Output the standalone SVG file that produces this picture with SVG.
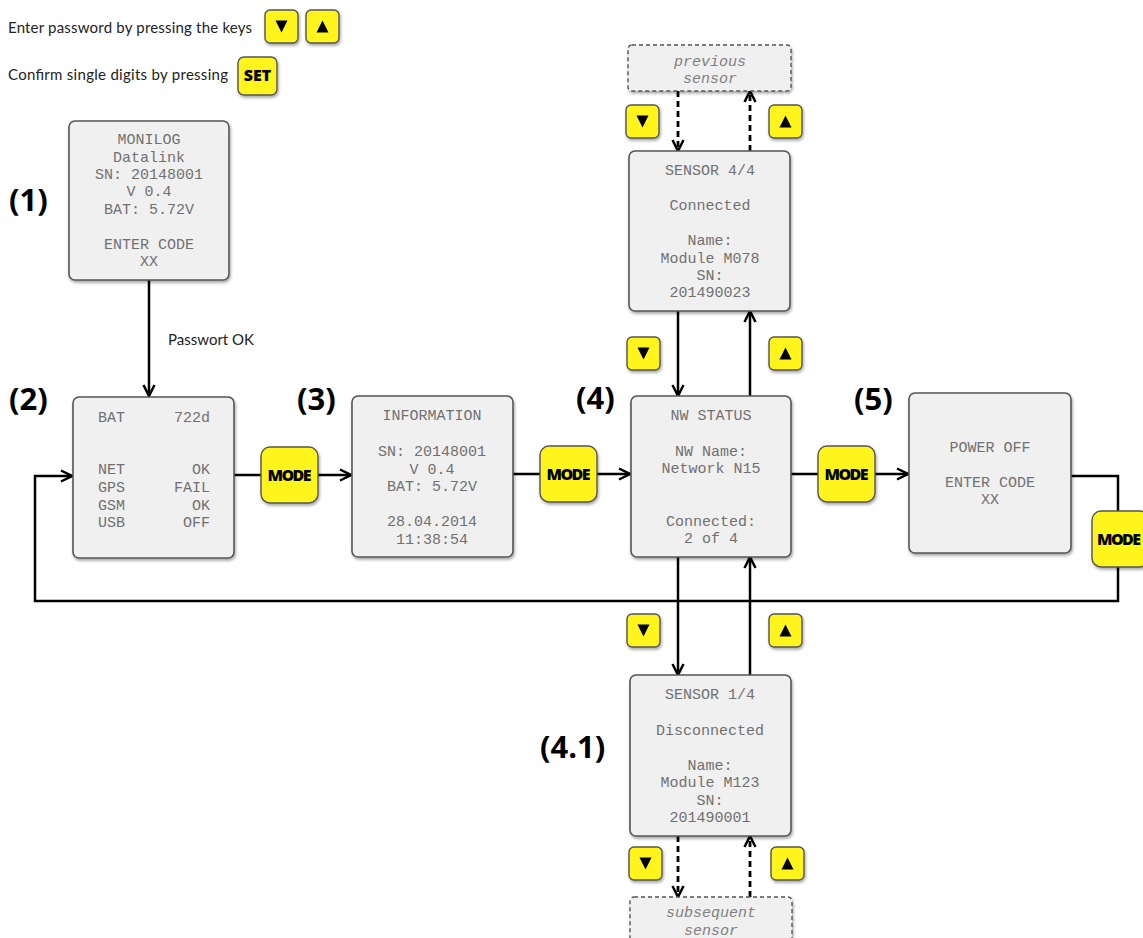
<svg xmlns="http://www.w3.org/2000/svg" xmlns:xlink="http://www.w3.org/1999/xlink" width="1143" height="938" viewBox="0 0 1143 938">
<style>
.box{fill:#f0f0f0;stroke:#555;stroke-width:1.6}
.dbox{fill:#f0f0f0;stroke:#555;stroke-width:1.4;stroke-dasharray:4,3}
.mono{font-family:"Liberation Mono","DejaVu Sans Mono",monospace;font-size:15px;fill:#707070}
.it{font-style:italic;fill:#808080}
.mid{text-anchor:middle}
.end{text-anchor:end}
.lbl{font-family:"Open Sans","Liberation Sans",sans-serif;font-weight:bold;font-size:31px;fill:#000}
.leg{font-family:"Lato","Liberation Sans",sans-serif;font-size:15px;fill:#222}
.key{fill:#fff51a;stroke:#555;stroke-width:1.4}
.kt{font-family:"Open Sans","Liberation Sans",sans-serif;font-weight:800;font-size:16px;fill:#000;text-anchor:middle}
.c{fill:none;stroke:#000;stroke-width:2.5}
.cd{fill:none;stroke:#000;stroke-width:2.8;stroke-dasharray:6,4}
</style>
<defs>
<filter id="sh" x="-10%" y="-10%" width="130%" height="130%">
<feDropShadow dx="1" dy="2" stdDeviation="1.5" flood-color="#000" flood-opacity="0.35"/>
</filter>
<marker id="ah" viewBox="0 0 14 14" refX="12.5" refY="7" markerWidth="14" markerHeight="14" markerUnits="userSpaceOnUse" orient="auto">
<path d="M1.5,1.5 L12.5,7 L1.5,12.5" fill="none" stroke="#000" stroke-width="2.5"/>
</marker>
<g id="kdown"><rect class="key" x="0" y="0" width="33" height="33" rx="5" filter="url(#sh)"/><polygon points="10.5,10.5 22.5,10.5 16.5,22.5" fill="#000"/></g>
<g id="kup"><rect class="key" x="0" y="0" width="33" height="33" rx="5" filter="url(#sh)"/><polygon points="16.5,10.5 22.5,22.5 10.5,22.5" fill="#000"/></g>
</defs>
<rect width="1143" height="938" fill="#fff"/>

<g id="legend">
<text class="leg" x="8" y="33" textLength="244">Enter password by pressing the keys</text>
<use xlink:href="#kdown" x="265" y="10"/>
<use xlink:href="#kup" x="306" y="10"/>
<text class="leg" x="8" y="80" textLength="220">Confirm single digits by pressing</text>
<rect class="key" x="238" y="57" width="39" height="38" rx="6" filter="url(#sh)"/>
<text class="kt" x="257.5" y="81" font-size="13">SET</text>
</g>

<g id="connectors">
<line class="c" x1="149" y1="280" x2="149" y2="396" marker-end="url(#ah)"/>
<line class="c" x1="234" y1="475" x2="351" y2="475" marker-end="url(#ah)"/>
<line class="c" x1="513" y1="474" x2="630" y2="474" marker-end="url(#ah)"/>
<line class="c" x1="791" y1="474" x2="908" y2="474" marker-end="url(#ah)"/>
<polyline class="c" points="1071,476 1118,476 1118,601 35,601 35,476 72,476" marker-end="url(#ah)"/>
<line class="c" x1="678" y1="311" x2="678" y2="396" marker-end="url(#ah)"/>
<line class="c" x1="750" y1="396" x2="750" y2="311" marker-end="url(#ah)"/>
<line class="c" x1="678" y1="557" x2="678" y2="675" marker-end="url(#ah)"/>
<line class="c" x1="750" y1="675" x2="750" y2="557" marker-end="url(#ah)"/>
<line class="cd" x1="678" y1="91" x2="678" y2="151" marker-end="url(#ah)"/>
<line class="cd" x1="750" y1="151" x2="750" y2="91" marker-end="url(#ah)"/>
<line class="cd" x1="678" y1="836" x2="678" y2="897" marker-end="url(#ah)"/>
<line class="cd" x1="750" y1="897" x2="750" y2="836" marker-end="url(#ah)"/>
<text class="leg" x="168" y="345" textLength="86">Passwort OK</text>
</g>

<g id="keys">
<use xlink:href="#kdown" x="626" y="105"/>
<use xlink:href="#kup" x="769" y="105"/>
<use xlink:href="#kdown" x="627" y="337"/>
<use xlink:href="#kup" x="769" y="337"/>
<use xlink:href="#kdown" x="627" y="614"/>
<use xlink:href="#kup" x="769" y="614"/>
<use xlink:href="#kdown" x="629" y="847"/>
<use xlink:href="#kup" x="771" y="847"/>
</g>

<g id="mode1"><rect class="key" x="261" y="447" width="57" height="56" rx="9" filter="url(#sh)"/><text class="kt" x="289.5" y="481" textLength="44">MODE</text></g>
<g id="mode2"><rect class="key" x="540" y="446" width="57" height="56" rx="9" filter="url(#sh)"/><text class="kt" x="568.5" y="480" textLength="44">MODE</text></g>
<g id="mode3"><rect class="key" x="818" y="446" width="57" height="56" rx="9" filter="url(#sh)"/><text class="kt" x="846.5" y="480" textLength="44">MODE</text></g>
<g id="mode4"><rect class="key" x="1092" y="511" width="57" height="56" rx="9" filter="url(#sh)"/><text class="kt" x="1119" y="545" textLength="44">MODE</text></g>

<g id="node1">
<text class="lbl" x="9" y="211">(1)</text>
<rect class="box" x="69" y="121" width="160" height="159" rx="6" filter="url(#sh)"/>
<g class="mono mid">
<text x="149" y="144">MONILOG</text>
<text x="149" y="162">Datalink</text>
<text x="149" y="179">SN: 20148001</text>
<text x="149" y="196">V 0.4</text>
<text x="149" y="214">BAT: 5.72V</text>
<text x="149" y="249">ENTER CODE</text>
<text x="149" y="266">XX</text>
</g>
</g>

<g id="node2">
<text class="lbl" x="9" y="410">(2)</text>
<rect class="box" x="73" y="397" width="161" height="161" rx="6" filter="url(#sh)"/>
<g class="mono">
<text x="98" y="422">BAT</text>
<text x="98" y="474">NET</text>
<text x="98" y="492">GPS</text>
<text x="98" y="510">GSM</text>
<text x="98" y="527">USB</text>
</g>
<g class="mono end">
<text x="210" y="422">722d</text>
<text x="210" y="474">OK</text>
<text x="210" y="492">FAIL</text>
<text x="210" y="510">OK</text>
<text x="210" y="527">OFF</text>
</g>
</g>

<g id="node3">
<text class="lbl" x="297" y="410">(3)</text>
<rect class="box" x="352" y="396" width="161" height="161" rx="6" filter="url(#sh)"/>
<g class="mono mid">
<text x="432" y="420">INFORMATION</text>
<text x="432" y="456">SN: 20148001</text>
<text x="432" y="474">V 0.4</text>
<text x="432" y="491">BAT: 5.72V</text>
<text x="432" y="526">28.04.2014</text>
<text x="432" y="544">11:38:54</text>
</g>
</g>

<g id="node4">
<text class="lbl" x="576" y="409">(4)</text>
<rect class="box" x="631" y="396" width="160" height="161" rx="6" filter="url(#sh)"/>
<g class="mono mid">
<text x="711" y="420">NW STATUS</text>
<text x="711" y="456">NW Name:</text>
<text x="711" y="473">Network N15</text>
<text x="711" y="526">Connected:</text>
<text x="711" y="543">2 of 4</text>
</g>
</g>

<g id="node5">
<text class="lbl" x="854" y="410">(5)</text>
<rect class="box" x="909" y="393" width="162" height="160" rx="6" filter="url(#sh)"/>
<g class="mono mid">
<text x="990" y="452">POWER OFF</text>
<text x="990" y="487">ENTER CODE</text>
<text x="990" y="504">XX</text>
</g>
</g>

<g id="prev">
<rect class="dbox" x="628" y="45" width="163" height="46" rx="4" filter="url(#sh)"/>
<text class="mono it mid" x="710" y="66">previous</text>
<text class="mono it mid" x="710" y="83">sensor</text>
</g>

<g id="sensor44">
<rect class="box" x="629" y="151" width="161" height="160" rx="6" filter="url(#sh)"/>
<g class="mono mid">
<text x="710" y="175">SENSOR 4/4</text>
<text x="710" y="210">Connected</text>
<text x="710" y="245">Name:</text>
<text x="710" y="263">Module M078</text>
<text x="710" y="280">SN:</text>
<text x="710" y="297">201490023</text>
</g>
</g>

<g id="sensor14">
<text class="lbl" x="540" y="758">(4.1)</text>
<rect class="box" x="630" y="675" width="161" height="161" rx="6" filter="url(#sh)"/>
<g class="mono mid">
<text x="710" y="699">SENSOR 1/4</text>
<text x="710" y="735">Disconnected</text>
<text x="710" y="770">Name:</text>
<text x="710" y="787">Module M123</text>
<text x="710" y="805">SN:</text>
<text x="710" y="822">201490001</text>
</g>
</g>

<g id="next">
<rect class="dbox" x="630" y="897" width="162" height="60" rx="4" filter="url(#sh)"/>
<text class="mono it mid" x="711" y="917">subsequent</text>
<text class="mono it mid" x="711" y="935">sensor</text>
</g>
</svg>
